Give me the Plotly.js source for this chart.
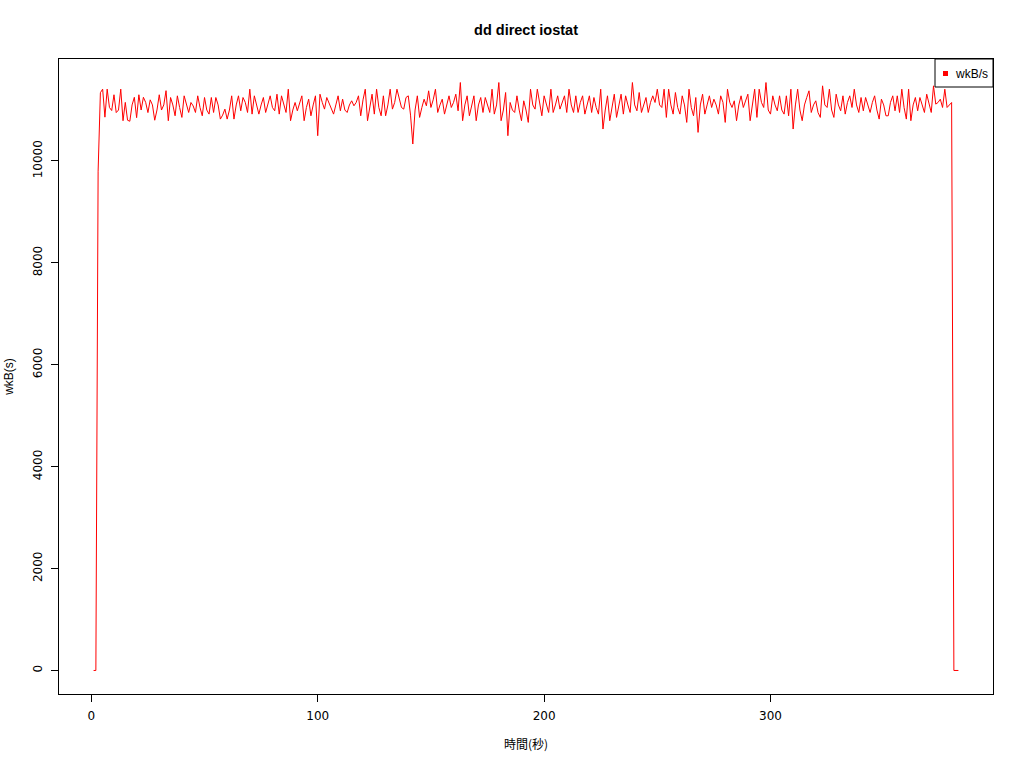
<!DOCTYPE html>
<html>
<head>
<meta charset="utf-8">
<script src="https://cdn.plot.ly/plotly-3.0.1.min.js"></script>
<style>html,body{margin:0;padding:0;background:#fff}#chart{width:1024px;height:768px}</style>
</head>
<body>
<div id="chart"></div>
<script>
// wkB/s per second (x = 1..383)
const wkBs = [
0, 0, 9800, 11340,
11410, 10860, 11410, 11050, 10990, 11300, 10950, 11000, 11410, 10790,
11150, 10800, 10780, 11100, 11250, 10850, 11300, 11000, 11250, 11150,
10950, 11200, 11100, 10800, 11000, 11300, 11000, 11100, 11380, 10790,
11246, 11100, 10887, 11279, 11050, 10855, 11279, 11120, 10952, 11148,
11080, 10952, 11279, 11050, 10887, 11246, 11000, 10920, 11246, 10952,
11246, 11100, 10822, 10900, 11018, 10822, 11000, 11279, 10822, 11100,
11279, 10985, 11246, 11150, 10952,
11409, 10920, 11279, 11100, 10920, 11100, 11246, 10952, 11100, 11279,
11050, 10985, 11311, 10920, 11279, 11100, 10952, 11409, 10790, 11000,
11148, 10985, 11150, 11279, 10790, 11050, 11213, 10887, 11100, 11279,
10496, 11311, 11150, 11018, 11246,
11148, 11050, 10920, 11100, 11279, 10985, 11213, 11000, 10952, 11100,
11181, 11083, 11150, 11279, 10887, 11200, 11409, 10790, 11100, 11311,
10920, 11409, 11050, 10887, 11279, 10887, 11100, 11409, 11018, 11150,
11409, 11200, 11050, 11018, 11246,
11279, 10900, 10333, 11000, 11279, 10855, 11050, 11213, 11083, 11377,
11050, 11200, 11409, 10952, 11100, 11213, 10920, 11100, 11279, 11050,
11150, 11311, 10985, 11540, 10790, 11100, 11279, 10887, 11100, 11279,
10790, 11100, 11246, 10952, 11246,
11100, 10952, 11409, 10920, 11100, 11540, 10790, 11000, 11344, 10496,
11148, 11000, 10952, 11279, 11000, 10790, 11181, 11000, 10757, 11409,
11100, 11018, 11409, 11100, 10887, 11279, 11100, 10952, 11409, 10952,
11100, 11279, 11018, 11150, 11279,
10952, 11409, 11100, 10952, 11279, 10952, 11150, 11279, 10920, 11100,
11279, 10952, 11246, 11050, 10920, 11409, 10627, 11000, 11279, 10790,
11050, 11311, 10855, 11100, 11311, 10920, 11279, 11100, 10952, 11540,
11100, 10985, 11344, 10952, 11100,
11246, 10952, 11150, 11279, 11148, 11409, 11100, 11050, 11409, 10855,
11409, 11100, 10920, 11344, 11050, 10920, 11279, 11100, 10757, 11409,
11050, 10887, 11246, 10561, 11100, 11311, 10920, 11100, 11279, 11050,
11213, 11100, 10920, 11279, 11150, 10757,
11409, 11150, 11050, 11181, 10790, 11100, 11279, 11050, 11200, 11311,
10790, 11100, 11409, 10855, 11409, 11150, 11050, 11540, 11000, 10920,
11279, 11100, 10985, 11279, 11000, 10920, 11279, 10887, 11409, 10627,
11100, 11409, 11000, 10790, 11100,
11246, 11377, 10952, 11100, 11181, 10950, 10855, 11475, 11100, 11050,
11409, 11000, 10855, 11311, 11100, 10985, 11279, 10920, 11150, 11279,
11050, 11409, 11100, 10952, 11246, 10985, 11246, 11100, 10952, 11150,
11279, 11000, 10822, 11213, 11100,
10887, 10887, 11150, 11279, 10985, 11279, 10952, 11409, 11050, 10822,
11409, 10790, 11100, 11246, 10985, 11246, 11100, 10952, 11311, 11100,
10952, 11475, 11116, 11148, 11213, 11050, 11409, 11050, 11100, 11148,
0, 0, 0
];
const seconds = wkBs.map((_, i) => i + 1);
const xTicks = [0, 100, 200, 300];
const yTicks = [0, 2000, 4000, 6000, 8000, 10000];
const seriesName = "wkB/s";

const W = 1024, H = 768;
const L = 59, R = 993, T = 59, B = 694;
const xMin = Math.min(...seconds), xMax = Math.max(...seconds);
const yMin = Math.min(...wkBs), yMax = Math.max(...wkBs);
const xPad = (xMax - xMin) * 0.04, yPad = (yMax - yMin) * 0.04;

const tickFont = {family: "DejaVu Sans", size: 12, color: "#000"};

const trace = {
  x: seconds, y: wkBs, type: "scatter", mode: "lines",
  name: seriesName, showlegend: false,
  line: {color: "#ff0000", width: 1}
};

const pw = R - L, ph = B - T;
const px2x = p => (p - L) / pw;
const py2y = p => (B - p) / ph;

const layout = {
  width: W, height: H,
  margin: {l: L, r: W - R, t: T, b: H - B, pad: 0},
  paper_bgcolor: "#fff", plot_bgcolor: "#fff",
  showlegend: false,
  title: {text: "<b>dd direct iostat</b>", x: (L + R) / 2 / W, xanchor: "center", y: 1 - 30 / H, yanchor: "middle",
          font: {family: "Liberation Sans", size: 14.5, color: "#000"}},
  xaxis: {
    range: [xMin - xPad, xMax + xPad], tickvals: xTicks, ticktext: xTicks.map(String),
    showgrid: false, zeroline: false, showline: true, mirror: true, linecolor: "#000", linewidth: 1,
    ticks: "outside", ticklen: 7, tickcolor: "#000", tickfont: tickFont, ticklabelstandoff: 4,
    title: {text: "時間(秒)", standoff: 18, font: {family: "Noto Sans CJK JP", size: 12, color: "#000"}}
  },
  yaxis: {
    range: [yMin - yPad, yMax + yPad], tickvals: yTicks, ticktext: yTicks.map(String),
    tickangle: -90,
    showgrid: false, zeroline: false, showline: true, mirror: true, linecolor: "#000", linewidth: 1,
    ticks: "outside", ticklen: 7, tickcolor: "#000", tickfont: tickFont, ticklabelstandoff: 4,
    title: {text: "wkB(s)", standoff: 15, font: {family: "Liberation Sans", size: 12, color: "#000"}}
  },
  shapes: [
    {type: "rect", xref: "paper", yref: "paper", x0: px2x(935), x1: px2x(993), y0: py2y(87), y1: py2y(59),
     line: {color: "#000", width: 1}, fillcolor: "#fff", layer: "above"},
    {type: "rect", xref: "paper", yref: "paper", x0: px2x(943), x1: px2x(948), y0: py2y(76), y1: py2y(71),
     line: {color: "#ff0000", width: 0}, fillcolor: "#ff0000", layer: "above"}
  ],
  annotations: [
    {xref: "paper", yref: "paper", x: px2x(953), y: py2y(73.5), xanchor: "left", yanchor: "middle",
     text: seriesName, showarrow: false, font: {family: "Liberation Sans", size: 12, color: "#000"}}
  ]
};

Plotly.newPlot("chart", [trace], layout, {staticPlot: true, displayModeBar: false});
</script>
</body>
</html>
